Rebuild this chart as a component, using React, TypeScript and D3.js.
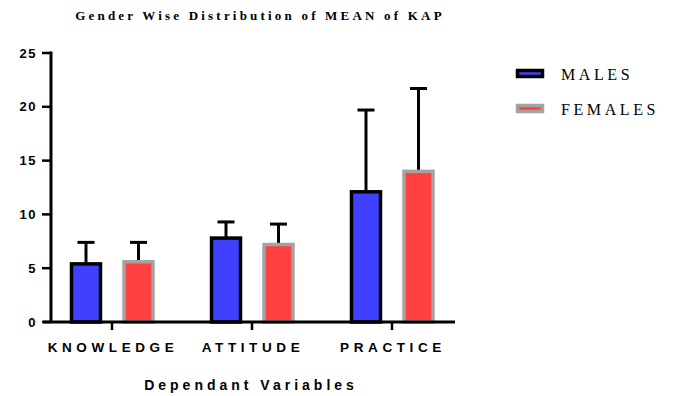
import React, { useRef, useEffect } from "react";
import * as d3 from "d3";

const categories = ["KNOWLEDGE", "ATTITUDE", "PRACTICE"];
const maleMean = [5.4, 7.8, 12.1];
const maleSd = [2.0, 1.5, 7.6];
const femaleMean = [5.6, 7.2, 14.0];
const femaleSd = [1.8, 1.9, 7.7];
const yTicks = [0, 5, 10, 15, 20, 25];
const seriesNames = ["MALES", "FEMALES"];

const App = () => {
  const svgRef = useRef<SVGSVGElement | null>(null);

  useEffect(() => {
    const w = 673;
    const h = 396;
    const svg = d3.select(svgRef.current).attr("width", w).attr("height", h);
    svg.selectAll("*").remove();

    // scales
    const x = d3.scalePoint<string>().domain(categories).range([112, 392]);
    const y = d3.scaleLinear().domain([0, 25]).range([322, 53]);

    const series = [
      { name: seriesNames[0], mean: maleMean, sd: maleSd, off: -26, fill: "#4040ff", stroke: "#000000" },
      { name: seriesNames[1], mean: femaleMean, sd: femaleSd, off: 26.5, fill: "#ff4040", stroke: "#a3a3a3" },
    ];
    const barW = 29;

    // title
    svg
      .append("text")
      .attr("x", 260)
      .attr("y", 20)
      .attr("text-anchor", "middle")
      .attr("font-family", "Liberation Serif, serif")
      .attr("font-weight", "bold")
      .attr("font-size", 13)
      .attr("letter-spacing", 3.2)
      .text("Gender Wise Distribution of MEAN of KAP");

    // error bars (behind bars)
    series.forEach((s) => {
      const g = svg.append("g");
      categories.forEach((c, i) => {
        const cx = (x(c) as number) + s.off;
        const top = y(s.mean[i] + s.sd[i]);
        g.append("line")
          .attr("x1", cx).attr("x2", cx)
          .attr("y1", y(s.mean[i])).attr("y2", top)
          .attr("stroke", "#000").attr("stroke-width", 3);
        g.append("line")
          .attr("x1", cx - 8.5).attr("x2", cx + 8.5)
          .attr("y1", top).attr("y2", top)
          .attr("stroke", "#000").attr("stroke-width", 3);
      });
    });

    // bars
    series.forEach((s) => {
      svg
        .append("g")
        .selectAll("rect")
        .data(categories)
        .join("rect")
        .attr("x", (c) => (x(c) as number) + s.off - barW / 2)
        .attr("y", (c, i) => y(s.mean[i]))
        .attr("width", barW)
        .attr("height", (c, i) => y(0) - y(s.mean[i]))
        .attr("fill", s.fill)
        .attr("stroke", s.stroke)
        .attr("stroke-width", 3.5);
    });

    // y axis
    const yAxis = svg.append("g");
    yAxis.append("line")
      .attr("x1", 51).attr("x2", 51).attr("y1", y(25) - 1.5).attr("y2", y(0))
      .attr("stroke", "#000").attr("stroke-width", 3);
    yTicks.forEach((t) => {
      yAxis.append("line")
        .attr("x1", 42).attr("x2", 51).attr("y1", y(t)).attr("y2", y(t))
        .attr("stroke", "#000").attr("stroke-width", 2.5);
      yAxis.append("text")
        .attr("x", 37)
        .attr("y", y(t))
        .attr("dy", "0.36em")
        .attr("text-anchor", "end")
        .attr("font-family", "Liberation Sans, Arial, sans-serif")
        .attr("font-weight", "bold")
        .attr("font-size", 13)
        .attr("letter-spacing", 1.5)
        .text(t);
    });

    // x axis
    const xAxis = svg.append("g");
    xAxis.append("line")
      .attr("x1", 43).attr("x2", 455).attr("y1", y(0)).attr("y2", y(0))
      .attr("stroke", "#000").attr("stroke-width", 3);
    categories.forEach((c) => {
      xAxis.append("line")
        .attr("x1", x(c) as number).attr("x2", x(c) as number)
        .attr("y1", y(0)).attr("y2", y(0) + 8)
        .attr("stroke", "#000").attr("stroke-width", 2.5);
      xAxis.append("text")
        .attr("x", (x(c) as number) + 1)
        .attr("y", 352)
        .attr("text-anchor", "middle")
        .attr("font-family", "Liberation Sans, Arial, sans-serif")
        .attr("font-weight", "bold")
        .attr("font-size", 13.5)
        .attr("letter-spacing", 4.6)
        .text(c);
    });

    // axis title
    svg
      .append("text")
      .attr("x", 251)
      .attr("y", 390)
      .attr("text-anchor", "middle")
      .attr("font-family", "Liberation Sans, Arial, sans-serif")
      .attr("font-weight", "bold")
      .attr("font-size", 14)
      .attr("letter-spacing", 4)
      .text("Dependant Variables");

    // legend
    series.forEach((s, i) => {
      const ly = 73.5 + i * 35;
      svg.append("rect")
        .attr("x", 517.5).attr("y", ly - 3)
        .attr("width", 25).attr("height", 6)
        .attr("fill", s.fill).attr("stroke", s.stroke).attr("stroke-width", 3.5);
      svg.append("text")
        .attr("x", 561)
        .attr("y", ly + 6.5)
        .attr("font-family", "Liberation Serif, serif")
        .attr("font-size", 16)
        .attr("letter-spacing", 3.6)
        .text(s.name);
    });
  }, []);

  return (
    <svg
      ref={svgRef}
      style={{ position: "absolute", left: 0, top: 0, background: "#fff" }}
    ></svg>
  );
};

export default App;
